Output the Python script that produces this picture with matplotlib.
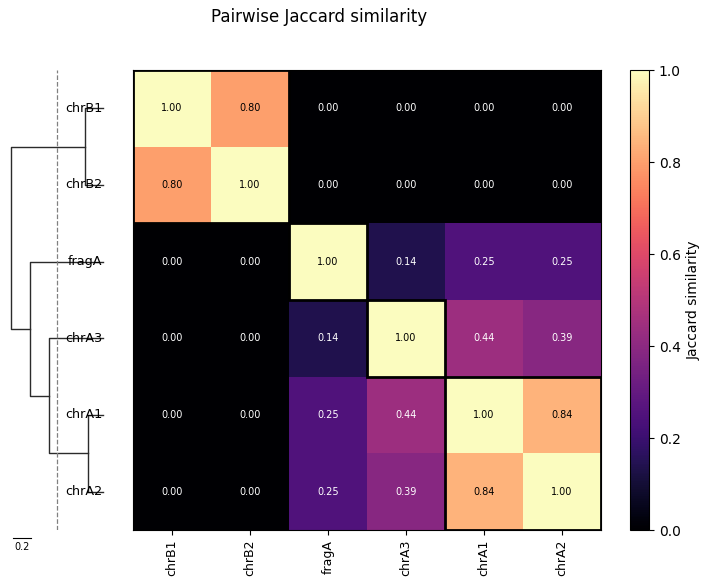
import numpy as np
import matplotlib
matplotlib.use("Agg")
import matplotlib.pyplot as plt
from matplotlib.patches import Rectangle

labels = ["chrB1", "chrB2", "fragA", "chrA3", "chrA1", "chrA2"]
jaccard = np.array([
    [1.00, 0.80, 0.00, 0.00, 0.00, 0.00],
    [0.80, 1.00, 0.00, 0.00, 0.00, 0.00],
    [0.00, 0.00, 1.00, 0.14, 0.25, 0.25],
    [0.00, 0.00, 0.14, 1.00, 0.44, 0.39],
    [0.00, 0.00, 0.25, 0.44, 1.00, 0.84],
    [0.00, 0.00, 0.25, 0.39, 0.84, 1.00],
])
threshold = 0.5
scale_len = 0.2


def average_linkage(dist):
    # simple UPGMA, returns list of (id_a, id_b, height, new_id)
    n = len(dist)
    members = {i: [i] for i in range(n)}
    merges = []
    next_id = n
    while len(members) > 1:
        keys = list(members)
        best = None
        for i in range(len(keys)):
            for j in range(i + 1, len(keys)):
                a, b = keys[i], keys[j]
                d = np.mean([dist[p, q] for p in members[a] for q in members[b]])
                if best is None or d < best[2]:
                    best = (a, b, d)
        a, b, d = best
        members[next_id] = members.pop(a) + members.pop(b)
        merges.append((a, b, d, next_id))
        next_id += 1
    return merges


dist = 1 - jaccard
merges = average_linkage(dist)

fig = plt.figure(figsize=(7.1, 5.87), dpi=100)
ax = fig.add_axes([133 / 710, 57 / 587, 468 / 710, 460 / 587])
cax = fig.add_axes([630 / 710, 57 / 587, 19 / 710, 460 / 587])
dax = fig.add_axes([10.7 / 710, 57 / 587, 92.3 / 710, 460 / 587])

im = ax.imshow(jaccard, cmap="magma", vmin=0, vmax=1, aspect="auto")
n = len(labels)
for i in range(n):
    for j in range(n):
        v = jaccard[i, j]
        ax.text(j, i, f"{v:.2f}", ha="center", va="center", fontsize=7,
                color="black" if v >= 0.5 else "white")
ax.set_xticks(range(n))
ax.set_xticklabels(labels, rotation=90, fontsize=9)
ax.set_yticks([])

# cluster boxes
groups = {i: [i] for i in range(n)}
for a, b, h, new in merges:
    if h <= threshold:
        groups[new] = groups.pop(a) + groups.pop(b)
for g in groups.values():
    lo, hi = min(g), max(g)
    ax.add_patch(Rectangle((lo - 0.5, lo - 0.5), hi - lo + 1, hi - lo + 1,
                           fill=False, ec="black", lw=2))

cb = fig.colorbar(im, cax=cax)
cb.set_label("Jaccard similarity", fontsize=10)
cb.set_ticks([0, 0.2, 0.4, 0.6, 0.8, 1.0])

# dendrogram
pos = {i: float(i) for i in range(n)}
hgt = {i: 0.0 for i in range(n)}
for a, b, h, new in merges:
    ya, yb = pos[a], pos[b]
    dax.plot([hgt[a], h, h, hgt[b]], [ya, ya, yb, yb], color="#2b2b2b",
             lw=1, clip_on=False)
    pos[new] = (ya + yb) / 2
    hgt[new] = h
dax.axvline(threshold, color="gray", ls="--", lw=0.9)
for i, lab in enumerate(labels):
    dax.text(0.01, i, lab, ha="right", va="center", fontsize=9.2)
dax.plot([0.98, 0.98 - scale_len], [5.6, 5.6], color="black", lw=0.8, clip_on=False)
dax.text(0.98 - scale_len / 2, 5.72, f"{scale_len}", ha="center", va="center",
         fontsize=7)
dax.set_xlim(1.0, 0.0)
dax.set_ylim(n - 0.5, -0.5)
dax.axis("off")

fig.text(319 / 710, 1 - 17 / 587, "Pairwise Jaccard similarity", ha="center",
         va="center", fontsize=12)

fig.savefig("out.png", dpi=100)
